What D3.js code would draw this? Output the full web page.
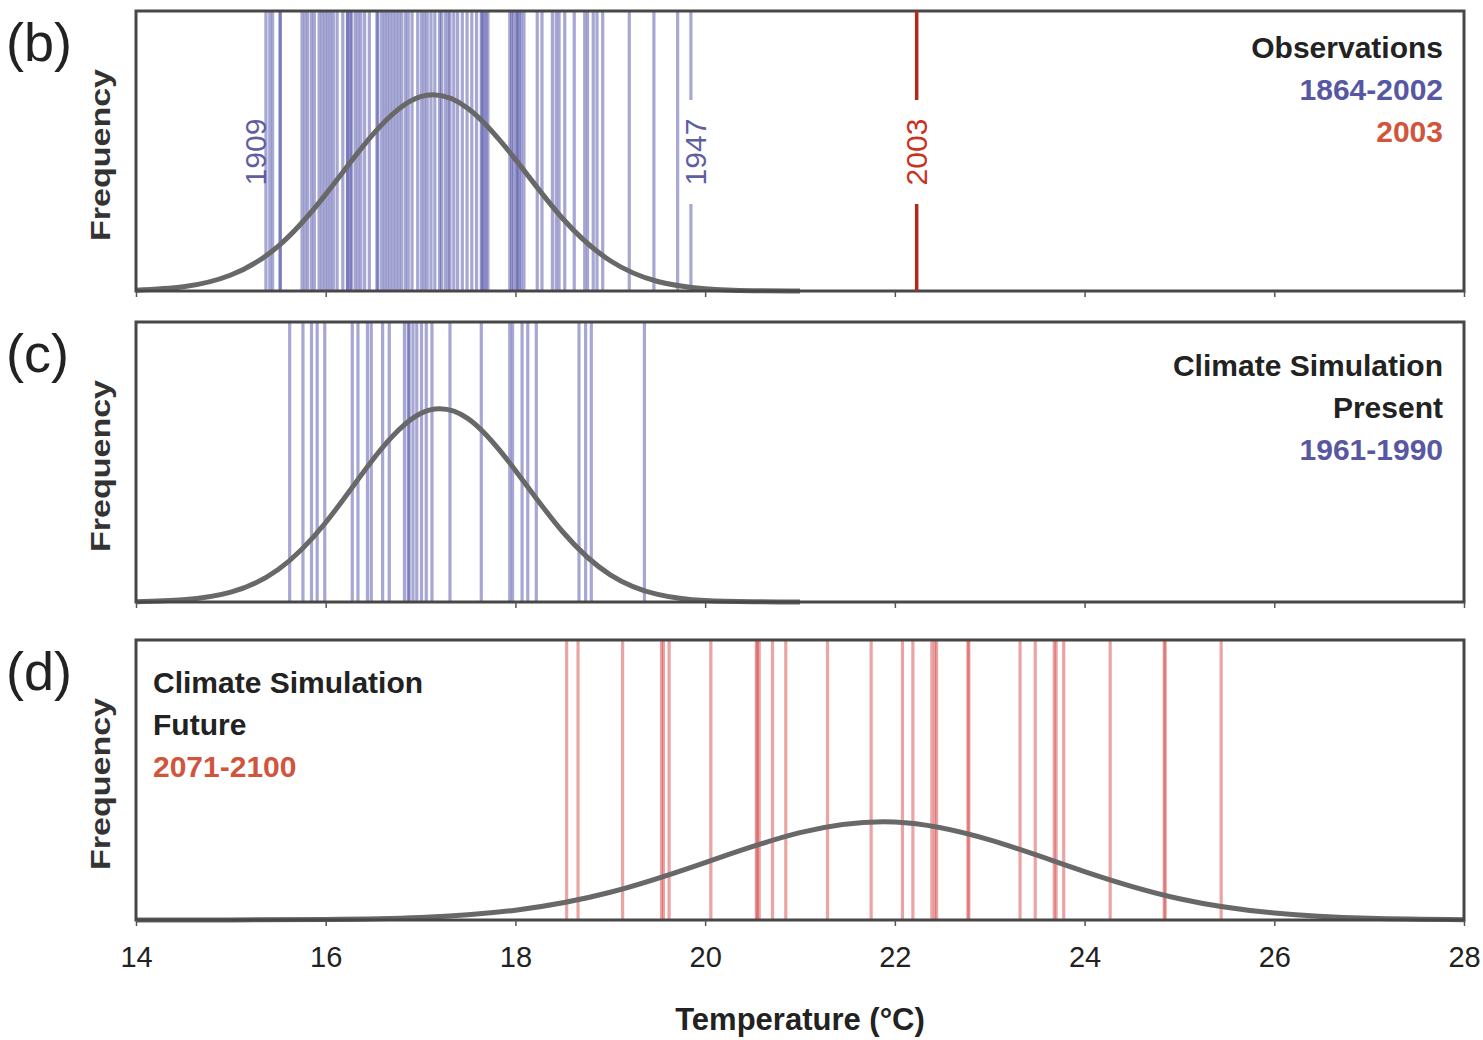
<!DOCTYPE html>
<html lang="en">
<head>
  <meta charset="UTF-8">
  <title>Summer temperature distributions</title>
  <script src="https://d3js.org/d3.v7.min.js"></script>
  <style>
    body { margin: 0; background: #fff; }
    text { font-family: "Liberation Sans", Arial, sans-serif; }
  </style>
</head>
<body>
  <div id="chart"></div>

  <script>
    // x axis
    const tickValues = [14, 16, 18, 20, 22, 24, 26, 28];

    // (b) observed summer means 1864-2002, one line per year (overlaps look darker)
    const obsTemps = [
      15.37, 15.41, 15.44, 15.52, 15.52,
      15.75, 15.78, 15.81, 15.85, 15.88,
      15.93, 15.96, 15.99, 16.02, 16.05, 16.08, 16.12,
      16.18, 16.23, 16.23, 16.26, 16.27,
      16.31, 16.34, 16.37, 16.41, 16.46,
      16.54, 16.55, 16.59,
      16.62, 16.65, 16.68, 16.71, 16.74, 16.77, 16.80, 16.84, 16.87, 16.91,
      16.97, 17.01, 17.04, 17.07, 17.11, 17.15,
      17.20, 17.22, 17.26, 17.29, 17.31, 17.35,
      17.39, 17.44, 17.49, 17.54, 17.59,
      17.64, 17.65, 17.67, 17.69, 17.71,
      17.94, 17.96, 17.98, 18.01, 18.02, 18.04, 18.06, 18.09,
      18.23, 18.28, 18.39, 18.43, 18.46, 18.52, 18.62, 18.73, 18.76, 18.82, 18.86, 18.92,
      19.20, 19.46, 19.71, 19.85
    ];
    const obs2003 = 22.23;

    // (c) simulated present 1961-1990
    const presentTemps = [
      15.62, 15.76, 15.85, 15.91, 15.99, 16.28, 16.34, 16.44, 16.48, 16.60,
      16.67, 16.83, 16.87, 16.88, 16.92, 16.96, 17.01, 17.06, 17.12, 17.31,
      17.64, 17.94, 17.97, 18.07, 18.13, 18.22, 18.67, 18.74, 18.80, 19.36
    ];

    // (d) simulated future 2071-2100
    const futureTemps = [
      18.54, 18.66, 19.13, 19.54, 19.56, 19.62, 20.06, 20.54, 20.55, 20.57,
      20.71, 20.85, 21.29, 21.75, 22.08, 22.19, 22.39, 22.42, 22.44, 22.77,
      22.78, 23.32, 23.48, 23.68, 23.70, 23.78, 24.27, 24.84, 24.85, 25.44
    ];

    // fitted frequency curves (relative height of panel)
    const curveTempsNarrow = [14, 14.5, 15, 15.5, 16, 16.5, 17, 17.5, 18, 18.5, 19, 19.5, 20, 20.5, 21];
    const obsCurve     = [0.003, 0.015, 0.057, 0.160, 0.345, 0.560, 0.694, 0.652, 0.470, 0.258, 0.108, 0.034, 0.008, 0.001, 0];
    const presentCurve = [0.001, 0.008, 0.035, 0.116, 0.284, 0.510, 0.673, 0.655, 0.470, 0.250, 0.097, 0.027, 0.005, 0.001, 0];
    const curveTempsWide = [14, 15, 16, 17, 18, 19, 20, 21, 22, 23, 24, 25, 26, 27, 28];
    const futureCurve  = [0, 0, 0.002, 0.009, 0.035, 0.099, 0.205, 0.312, 0.350, 0.286, 0.173, 0.076, 0.025, 0.006, 0.001];

    const W = 1483, H = 1040;
    const panelH = 280;
    const panels = [
      { top: 11,  tag: "(b)", lines: obsTemps, color: "#4f4fa8", temps: curveTempsNarrow, curve: obsCurve },
      { top: 322, tag: "(c)", lines: presentTemps, color: "#4f4fa8", temps: curveTempsNarrow, curve: presentCurve },
      { top: 640, tag: "(d)", lines: futureTemps, color: "#d84a4a", temps: curveTempsWide, curve: futureCurve }
    ];

    const svg = d3.select("#chart").append("svg")
      .attr("width", W)
      .attr("height", H);

    const x = d3.scaleLinear().domain([14, 28]).range([136, 1464]);

    panels.forEach(p => {
      const y = d3.scaleLinear().domain([0, 1]).range([p.top + panelH, p.top]);
      const g = svg.append("g");

      // year lines
      g.append("g")
        .selectAll("line")
        .data(p.lines)
        .join("line")
        .attr("x1", d => x(d)).attr("x2", d => x(d))
        .attr("y1", p.top).attr("y2", p.top + panelH)
        .attr("stroke", p.color)
        .attr("stroke-opacity", 0.5)
        .attr("stroke-width", 3.2);

      // fitted curve
      g.append("path")
        .datum(p.temps.map((t, i) => [t, p.curve[i]]))
        .attr("d", d3.line().x(d => x(d[0])).y(d => y(d[1])).curve(d3.curveNatural))
        .attr("fill", "none")
        .attr("stroke", "#686868")
        .attr("stroke-width", 5);

      // frame
      g.append("rect")
        .attr("x", x(14)).attr("y", p.top)
        .attr("width", x(28) - x(14)).attr("height", panelH)
        .attr("fill", "none")
        .attr("stroke", "#474747")
        .attr("stroke-width", 3);

      // small ticks under each panel
      g.append("g")
        .attr("transform", `translate(0,${p.top + panelH})`)
        .call(d3.axisBottom(x).tickValues(tickValues).tickSize(6).tickFormat(""))
        .call(a => a.select(".domain").remove())
        .call(a => a.selectAll("line").attr("stroke", "#555").attr("stroke-width", 1.5));

      // panel tag
      svg.append("text")
        .attr("x", 6).attr("y", p.top + 50)
        .attr("font-size", 54)
        .attr("fill", "#222")
        .text(p.tag);

      // y label
      svg.append("text")
        .attr("transform", `translate(110,${p.top + panelH / 2 + 4}) rotate(-90)`)
        .attr("text-anchor", "middle")
        .attr("font-size", 27)
        .attr("font-weight", "bold")
        .attr("fill", "#333")
        .attr("textLength", 172)
        .attr("lengthAdjust", "spacingAndGlyphs")
        .text("Frequency");
    });

    // 2003 line in (b)
    svg.append("line")
      .attr("x1", x(obs2003)).attr("x2", x(obs2003))
      .attr("y1", panels[0].top).attr("y2", panels[0].top + panelH)
      .attr("stroke", "#b02a1c")
      .attr("stroke-width", 3.5);

    // rotated year labels in (b)
    const yearLabels = [
      { t: 15.37, dx: -11, text: "1909", color: "#5f5fa0", gap: false },
      { t: 19.85, dx: 4, text: "1947", color: "#5f5fa0", gap: true },
      { t: obs2003, dx: 0, text: "2003", color: "#c8321e", gap: true }
    ];
    yearLabels.forEach(l => {
      const cx = x(l.t) + l.dx, cy = 152;
      if (l.gap) {
        svg.append("rect")
          .attr("x", cx - 14).attr("y", cy - 52)
          .attr("width", 28).attr("height", 104)
          .attr("fill", "#fff");
      }
      svg.append("text")
        .attr("transform", `translate(${cx},${cy}) rotate(-90)`)
        .attr("text-anchor", "middle")
        .attr("dy", "0.36em")
        .attr("font-size", 30)
        .attr("fill", l.color)
        .text(l.text);
    });

    // legends
    const legends = [
      { x: 1443, anchor: "end", y0: 58, rows: [["Observations", "#222"], ["1864-2002", "#5757a3"], ["2003", "#d0553c"]] },
      { x: 1443, anchor: "end", y0: 376, rows: [["Climate Simulation", "#222"], ["Present", "#222"], ["1961-1990", "#5757a3"]] },
      { x: 153, anchor: "start", y0: 693, rows: [["Climate Simulation", "#222"], ["Future", "#222"], ["2071-2100", "#d0553c"]] }
    ];
    legends.forEach(lg => {
      lg.rows.forEach((r, i) => {
        svg.append("text")
          .attr("x", lg.x).attr("y", lg.y0 + i * 42)
          .attr("text-anchor", lg.anchor)
          .attr("font-size", 30)
          .attr("font-weight", "bold")
          .attr("fill", r[1])
          .text(r[0]);
      });
    });

    // x axis labels under (d)
    const bottom = panels[2].top + panelH;
    svg.append("g")
      .attr("transform", `translate(0,${bottom})`)
      .call(d3.axisBottom(x).tickValues(tickValues).tickSize(0).tickPadding(26))
      .call(a => a.select(".domain").remove())
      .call(a => a.selectAll("text")
        .attr("font-size", 29)
        .attr("fill", "#222")
        .style("font-family", "'Liberation Sans', Arial, sans-serif"));

    svg.append("text")
      .attr("x", x(21)).attr("y", 1030)
      .attr("text-anchor", "middle")
      .attr("font-size", 31)
      .attr("font-weight", "bold")
      .attr("fill", "#222")
      .text("Temperature (°C)");
  </script>
</body>
</html>
